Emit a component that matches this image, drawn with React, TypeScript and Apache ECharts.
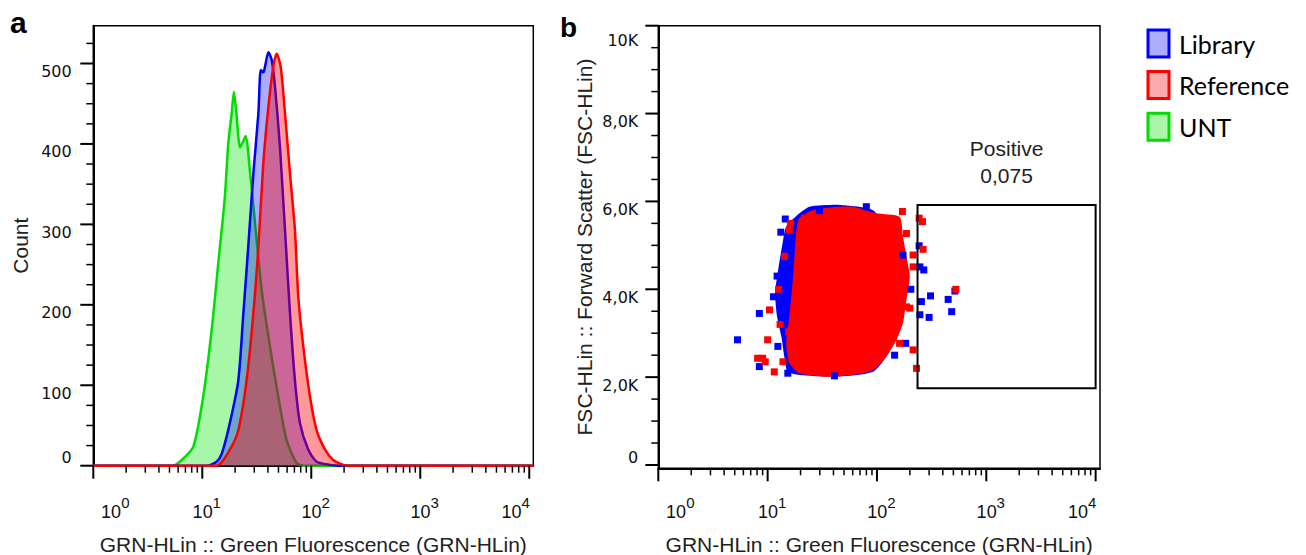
import React, { useEffect, useRef } from "react";
import * as echarts from "echarts";

// ---------- Panel a: histograms (GRN-HLin value, count) ----------
const untHistogram: number[][] = [
  [1, 0], [5.4, 0], [6.7, 9], [8.3, 24], [10.2, 86], [12.2, 169], [14.0, 251], [16.1, 334],
  [17.3, 400], [18.6, 438], [19.5, 465], [20.5, 440], [22.2, 396], [23.5, 402], [25.0, 410],
  [26.0, 398], [27.4, 365], [30.5, 301], [35.1, 218], [41.8, 148], [49.8, 86], [59.4, 32],
  [73.5, 3], [84.5, 0], [10890, 0],
];
const libraryHistogram: number[][] = [
  [1, 0], [11.0, 0], [13.5, 5], [15.1, 15], [17.9, 53], [21.4, 106], [23.8, 189], [26.4, 272],
  [29.4, 363], [32.7, 438], [34.4, 492], [36.3, 489], [37.6, 496], [40.4, 514], [43.4, 504],
  [46.5, 471], [51.6, 396], [57.4, 293], [63.8, 189], [70.8, 106], [78.7, 53], [93.8, 20],
  [112, 5], [149, 1], [183, 0], [10890, 0],
];
const referenceHistogram: number[][] = [
  [1, 0], [13.5, 0], [17.9, 20], [21.4, 44], [25.5, 106], [29.4, 189], [32.7, 272], [36.3, 376],
  [40.4, 446], [44.8, 496], [48.2, 512], [52.4, 496], [57.4, 438], [63.8, 363], [70.8, 293],
  [76.0, 210], [84.5, 148], [97.3, 86], [112, 44], [134, 20], [159, 7], [197, 1], [226, 0],
  [10890, 0],
];

// ---------- Panel b: dot plot (GRN-HLin value, FSC-HLin) ----------
const libraryCloud: number[][] = [
  [19.5, 5730], [24.2, 5880], [45.5, 5920], [91.8, 5800], [140, 5120], [151, 3980], [131, 2620],
  [91.8, 2120], [42.5, 2010], [19.5, 2050], [15.2, 2120], [14.2, 2470], [13.4, 2900],
  [12.2, 3380], [11.7, 3910], [12.6, 4510], [13.7, 5050], [14.8, 5430],
];
const referenceCloud: number[][] = [
  [18.2, 5270], [19.5, 5620], [25.9, 5800], [39.5, 5870], [60.3, 5880], [98.6, 5730],
  [161, 5650], [173, 5200], [186, 4740], [200, 4290], [186, 3760], [173, 3230], [151, 2850],
  [122, 2470], [91.8, 2160], [60.3, 2050], [34.4, 2010], [19.5, 2090], [15.8, 2320],
  [14.8, 2770], [15.8, 3380], [16.9, 4140], [17.6, 4740],
];
const libraryEvents: number[][] = [
  [243, 4990], [247, 4510], [268, 4440], [204, 4000], [309, 3850], [255, 3720], [448, 3770],
  [516, 3960], [482, 3490], [247, 3420], [300, 3360], [183, 2770], [145, 2500], [173, 4780],
  [5.3, 2850], [8.4, 3450], [8.4, 2240], [11.3, 3830], [15.3, 2090], [40.9, 2030],
  [29.8, 5790], [80, 5880], [13.2, 5300], [12.2, 4300], [12.4, 2700], [14.5, 5600],
];
const referenceEvents: number[][] = [
  [171, 5770], [243, 5620], [261, 5540], [264, 4910], [214, 4780], [527, 4000], [200, 3570],
  [214, 2620], [230, 2200], [161, 2770], [10.4, 3530], [10.0, 2850], [8.1, 2430], [9.0, 2430],
  [11.5, 2120], [21.7, 5620], [15.8, 5350], [186, 5270], [214, 4510], [186, 3600], [15.6, 3030],
  [9.5, 2350], [13.0, 3200], [12.6, 4000], [13.8, 2350], [14.3, 4750], [16.2, 5500],
];
const positiveGate: number[][] = [[235, 1750, 10000, 5920]];
const positiveText = ["Positive", "0,075"];

// ---------- Axes ----------
const xMinorTicks = [
  2, 3, 4, 5, 6, 7, 8, 9, 20, 30, 40, 50, 60, 70, 80, 90, 200, 300, 400, 500, 600, 700, 800, 900,
  2000, 3000, 4000, 5000, 6000, 7000, 8000, 9000,
];
const xMajorTicks = [1, 10, 100, 1000, 10000];
const countLabels = [0, 100, 200, 300, 400, 500];
const countMinorTicks = [25, 50, 75, 125, 150, 175, 225, 250, 275, 325, 350, 375, 425, 450, 475, 525];
const fscLabels = [0, 2000, 4000, 6000, 8000, 10000];
const fscMinorTicks = [500, 1000, 1500, 2500, 3000, 3500, 4500, 5000, 5500, 6500, 7000, 7500, 8500, 9000, 9500];
const xTitle = "GRN-HLin :: Green Fluorescence (GRN-HLin)";
const yTitleA = "Count";
const yTitleB = "FSC-HLin :: Forward Scatter (FSC-HLin)";
const seriesNames = ["Library", "Reference", "UNT"];

const AX = "Liberation Sans, Arial, sans-serif";
const TICKF = "DejaVu Sans, Verdana, sans-serif";

function fscFormat(v: number): string {
  if (v === 0) return "0";
  if (v === 10000) return "{m|10K}";
  return (v / 1000).toFixed(1).replace(".", ",") + "K";
}

function logXAxis(grid: number, max: number, margin: number, nameGap: number) {
  return {
    type: "log",
    logBase: 10,
    gridIndex: grid,
    min: 1,
    max,
    axisLine: { show: true, onZero: false, lineStyle: { color: "#000", width: 2 } },
    axisTick: { show: false },
    splitLine: { show: false },
    axisLabel: {
      margin,
      color: "#111",
      formatter: (v: number) => {
        const e = Math.log10(v);
        const r = Math.round(e);
        if (Math.abs(e - r) > 1e-6) return "";
        if (r === 0) return `{p0|}{b|10}{s|${r}}`;
        if (r === 4) return `{b|10}{s|${r}}{p4|}`;
        return `{p1|}{b|10}{s|${r}}`;
      },
      rich: {
        b: { fontSize: 18, fontFamily: AX, color: "#111", verticalAlign: "bottom", lineHeight: 18 },
        s: { fontSize: 15, fontFamily: AX, color: "#111", verticalAlign: "top", lineHeight: 15 },
        p0: { width: 44, lineHeight: 25.5 },
        p1: { width: 9, lineHeight: 25.5 },
        p4: { width: 27, lineHeight: 25.5 },
      },
    },
    name: xTitle,
    nameLocation: "middle",
    nameGap,
    nameMoveOverlap: false,
    nameTextStyle: { fontSize: 21, fontFamily: AX, color: "#222" },
  };
}

function tickSeries(grid: number, values: number[], dir: "x" | "y", anchor: number, len: number, width: number) {
  return {
    type: "custom",
    coordinateSystem: "cartesian2d",
    xAxisIndex: grid,
    yAxisIndex: grid,
    silent: true,
    clip: false,
    z: 10,
    data: values.map((v) => (dir === "x" ? [v, anchor] : [anchor, v])),
    renderItem: (_p: any, api: any) => {
      const pt = api.coord([api.value(0), api.value(1)]);
      const shape =
        dir === "x"
          ? { x1: pt[0], y1: pt[1], x2: pt[0], y2: pt[1] + len }
          : { x1: pt[0] - len, y1: pt[1], x2: pt[0], y2: pt[1] };
      return { type: "line", shape, style: { stroke: "#000", lineWidth: width } };
    },
  };
}

function cloudSeries(name: string, outline: number[][], color: string, z: number) {
  return {
    name,
    type: "custom",
    coordinateSystem: "cartesian2d",
    xAxisIndex: 1,
    yAxisIndex: 1,
    silent: true,
    z,
    data: outline,
    renderItem: (p: any, api: any) => {
      if (p.dataIndex !== 0) return null;
      const pts = outline.map((d) => api.coord(d));
      return { type: "polygon", shape: { points: pts, smooth: 0.2 }, style: { fill: color } };
    },
  };
}

function histSeries(name: string, data: number[][], line: string, fill: string, z: number) {
  return {
    name,
    type: "line",
    xAxisIndex: 0,
    yAxisIndex: 0,
    data,
    symbol: "none",
    showSymbol: false,
    smooth: 0.25,
    z,
    lineStyle: { color: line, width: 2.5 },
    itemStyle: { color: line },
    areaStyle: { color: fill, opacity: 1 },
  };
}

function yLabelStyle(margin: number) {
  return {
    margin,
    fontFamily: TICKF,
    fontSize: 16,
    color: "#111",
    align: "right",
    verticalAlign: "top",
    verticalAlignMinLabel: "bottom",
    verticalAlignMaxLabel: "top",
    rich: {
      m: { fontFamily: TICKF, fontSize: 16, color: "#111", padding: [7, 0, 0, 0] },
    },
  };
}

function buildOption() {
  return {
    animation: false,
    backgroundColor: "#fff",
    grid: [
      {
        left: 93.3, top: 25.7, width: 440, height: 440, show: true, borderColor: "#000", borderWidth: 1.5,
        outerBoundsMode: "none", containLabel: false,
      },
      {
        left: 658.3, top: 25.7, width: 441.7, height: 442.6, show: true, borderColor: "#000", borderWidth: 1.5,
        outerBoundsMode: "none", containLabel: false,
      },
    ],
    xAxis: [logXAxis(0, 10890, 29.5, 68), logXAxis(1, 10965, 27, 65.7)],
    yAxis: [
      {
        type: "value",
        gridIndex: 0,
        min: 0,
        max: 547,
        axisLine: { show: true, onZero: false, lineStyle: { color: "#000", width: 2 } },
        axisTick: { show: false },
        splitLine: { show: false },
        axisLabel: {
          ...yLabelStyle(21.6),
          customValues: countLabels,
          formatter: (v: number) => (countLabels.indexOf(v) >= 0 ? String(v) : ""),
        },
        name: yTitleA,
        nameLocation: "middle",
        nameGap: 62,
        nameMoveOverlap: false,
        nameTextStyle: { fontSize: 21, fontFamily: AX, color: "#222" },
      },
      {
        type: "value",
        gridIndex: 1,
        min: -75,
        max: 10000,
        axisLine: { show: true, onZero: false, lineStyle: { color: "#000", width: 2 } },
        axisTick: { show: false },
        splitLine: { show: false },
        axisLabel: {
          ...yLabelStyle(20),
          customValues: fscLabels,
          formatter: (v: number) => (fscLabels.indexOf(v) >= 0 ? fscFormat(v) : ""),
        },
        name: yTitleB,
        nameLocation: "middle",
        nameGap: 63,
        nameMoveOverlap: false,
        nameTextStyle: { fontSize: 21, fontFamily: AX, color: "#222" },
      },
    ],
    legend: {
      orient: "vertical",
      left: 1146.5,
      top: 28.5,
      padding: 0,
      itemWidth: 21,
      itemHeight: 27,
      itemGap: 11.6,
      icon: "rect",
      selectedMode: false,
      textStyle: { fontFamily: "Lato, Carlito, sans-serif", fontSize: 25, color: "#000", lineHeight: 27, padding: [0, 0, 0, 5] },
      data: [
        { name: seriesNames[0], itemStyle: { color: "rgb(172,172,250)", borderColor: "#0000ff", borderWidth: 3 } },
        { name: seriesNames[1], itemStyle: { color: "rgb(250,170,170)", borderColor: "#ff0000", borderWidth: 3 } },
        { name: seriesNames[2], itemStyle: { color: "rgb(170,245,170)", borderColor: "#00dd00", borderWidth: 3 } },
      ],
    },
    graphic: [
      { type: "text", left: 10, top: 7, style: { text: "a", fontSize: 30, fontWeight: "bold", fontFamily: AX, fill: "#000" } },
      { type: "text", left: 560, top: 13, style: { text: "b", fontSize: 28, fontWeight: "bold", fontFamily: AX, fill: "#000" } },
    ],
    series: [
      histSeries(seriesNames[2], untHistogram, "#00dd00", "rgba(0,230,0,0.34)", 2),
      histSeries(seriesNames[0], libraryHistogram, "#0000ff", "rgba(0,0,255,0.33)", 3),
      histSeries(seriesNames[1], referenceHistogram, "#ff0000", "rgba(255,0,0,0.40)", 4),
      cloudSeries(seriesNames[0], libraryCloud, "#0000ff", 2),
      cloudSeries(seriesNames[1], referenceCloud, "#ff0000", 3),
      {
        name: seriesNames[0],
        type: "scatter",
        xAxisIndex: 1,
        yAxisIndex: 1,
        data: libraryEvents,
        symbol: "rect",
        symbolSize: 7,
        itemStyle: { color: "#0000ff", opacity: 1 },
        z: 4,
      },
      {
        name: seriesNames[1],
        type: "scatter",
        xAxisIndex: 1,
        yAxisIndex: 1,
        data: referenceEvents,
        symbol: "rect",
        symbolSize: 7,
        itemStyle: { color: "#ff0000", opacity: 1 },
        z: 5,
      },
      {
        type: "custom",
        coordinateSystem: "cartesian2d",
        xAxisIndex: 1,
        yAxisIndex: 1,
        silent: true,
        z: 6,
        data: positiveGate,
        encode: { x: [0, 2], y: [1, 3] },
        renderItem: (_p: any, api: any) => {
          const tl = api.coord([api.value(0), api.value(3)]);
          const br = api.coord([api.value(2), api.value(1)]);
          return {
            type: "group",
            children: [
              {
                type: "rect",
                shape: { x: tl[0], y: tl[1], width: br[0] - tl[0], height: br[1] - tl[1] },
                style: { fill: "none", stroke: "#000", lineWidth: 2 },
              },
              {
                type: "text",
                style: {
                  text: positiveText.join("\n"),
                  x: (tl[0] + br[0]) / 2,
                  y: tl[1] - 15.7,
                  align: "center",
                  verticalAlign: "bottom",
                  fontSize: 21,
                  fontFamily: AX,
                  lineHeight: 27,
                  fill: "#222",
                },
              },
            ],
          };
        },
      },
      // ticks
      tickSeries(0, xMajorTicks, "x", 0, 13, 2),
      tickSeries(0, xMinorTicks, "x", 0, 7, 1.5),
      tickSeries(0, countLabels, "y", 1, 13, 2),
      tickSeries(0, countMinorTicks, "y", 1, 7, 1.5),
      tickSeries(1, xMajorTicks, "x", -75, 13, 2),
      tickSeries(1, xMinorTicks, "x", -75, 7, 1.5),
      tickSeries(1, fscLabels, "y", 1, 13, 2),
      tickSeries(1, fscMinorTicks, "y", 1, 7, 1.5),
    ],
  };
}

export default function App() {
  const ref = useRef<HTMLDivElement>(null);
  useEffect(() => {
    const chart = echarts.init(ref.current!, null, { renderer: "svg" });
    chart.setOption(buildOption() as any);
    return () => chart.dispose();
  }, []);
  return (
    <div
      ref={ref}
      style={{ position: "fixed", left: 0, top: 0, width: 1306, height: 555, background: "#fff" }}
    />
  );
}
